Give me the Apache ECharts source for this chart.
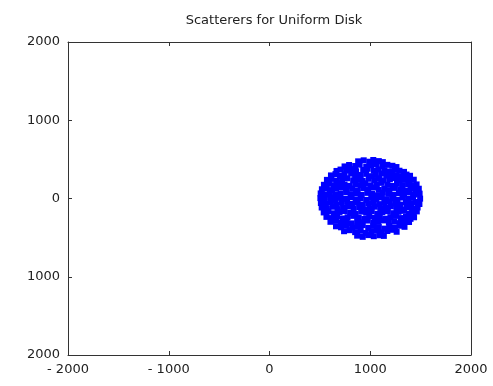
<!DOCTYPE html>
<html>
<head>
<meta charset="utf-8">
<script src="https://cdn.jsdelivr.net/npm/echarts@6/dist/echarts.min.js"></script>
<style>
  html, body { margin: 0; padding: 0; background: #fff; }
  #chart { width: 493px; height: 386px; }
</style>
</head>
<body>
<div id="chart"></div>
<script>
// 图表标题和坐标轴范围
const chartTitle = 'Scatterers for Uniform Disk'
const xTicks = [-2000, -1000, 0, 1000, 2000]
const yTicks = [-2000, -1000, 0, 1000, 2000]

// 散射点 [x, y]，从图上逐行估读
const scatterPoints = [
	[880, 475], [935, 488], [990, 470], [1030, 492], [1085, 478], [1125, 465],
	[745, 410], [790, 428], [850, 415], [895, 432], [960, 405], [1010, 425], [1060, 440], [1120, 412], [1170, 430], [1220, 418], [1260, 402],
	[665, 352], [705, 370], [760, 358], [815, 375], [860, 348], [930, 365], [975, 380], [1035, 355], [1080, 372], [1140, 360], [1190, 345], [1245, 368], [1290, 355], [1335, 340],
	[610, 295], [655, 312], [700, 288], [745, 305], [810, 318], [850, 292], [905, 300], [960, 315], [1010, 285], [1055, 305], [1110, 320], [1160, 292], [1215, 310], [1260, 298], [1315, 285], [1360, 306], [1395, 290],
	[570, 238], [615, 250], [665, 228], [720, 245], [770, 258], [830, 232], [880, 248], [925, 225], [985, 252], [1040, 236], [1090, 258], [1135, 230], [1195, 245], [1240, 262], [1290, 235], [1345, 248], [1390, 228], [1432, 240],
	[540, 175], [590, 188], [640, 170], [690, 195], [745, 178], [790, 162], [850, 185], [905, 172], [950, 195], [1005, 168], [1065, 182], [1110, 200], [1170, 175], [1225, 160], [1265, 190], [1320, 172], [1375, 185], [1420, 168], [1460, 180],
	[520, 118], [565, 130], [620, 108], [660, 125], [715, 140], [765, 112], [820, 128], [875, 105], [930, 132], [980, 118], [1030, 140], [1085, 110], [1140, 125], [1190, 105], [1245, 135], [1300, 118], [1345, 102], [1400, 130], [1450, 115], [1482, 125],
	[508, 65], [555, 52], [600, 72], [655, 48], [705, 62], [760, 80], [815, 55], [860, 68], [915, 45], [970, 72], [1020, 58], [1075, 40], [1125, 75], [1180, 60], [1230, 48], [1285, 70], [1335, 55], [1390, 78], [1440, 50], [1490, 62],
	[505, 5], [550, -8], [605, 12], [650, -15], [700, 8], [750, -5], [805, 18], [855, -12], [905, 2], [960, -18], [1010, 10], [1060, -6], [1115, 15], [1165, -10], [1220, 4], [1270, -16], [1320, 12], [1375, -4], [1425, 8], [1495, -2],
	[510, -58], [560, -70], [610, -48], [665, -75], [715, -55], [770, -42], [820, -68], [875, -52], [925, -80], [980, -60], [1035, -45], [1090, -72], [1140, -56], [1195, -40], [1250, -65], [1300, -78], [1355, -50], [1405, -62], [1455, -45], [1488, -70],
	[518, -115], [570, -128], [625, -105], [675, -135], [730, -118], [780, -102], [835, -130], [890, -112], [940, -140], [995, -122], [1045, -105], [1100, -132], [1150, -118], [1205, -100], [1260, -125], [1310, -140], [1365, -110], [1415, -128], [1470, -115],
	[538, -178], [585, -165], [640, -190], [695, -172], [745, -160], [800, -185], [855, -198], [910, -168], [960, -182], [1015, -160], [1070, -195], [1120, -175], [1175, -162], [1230, -188], [1280, -170], [1335, -158], [1385, -192], [1430, -176], [1462, -165],
	[565, -235], [620, -250], [670, -228], [725, -255], [775, -240], [830, -222], [885, -248], [940, -262], [990, -230], [1045, -245], [1095, -225], [1150, -258], [1200, -238], [1255, -222], [1305, -250], [1355, -235], [1400, -260], [1435, -240],
	[605, -298], [660, -285], [710, -310], [765, -295], [815, -318], [870, -290], [920, -305], [975, -282], [1030, -312], [1080, -295], [1135, -280], [1185, -308], [1240, -292], [1290, -315], [1340, -288], [1385, -300],
	[660, -355], [710, -368], [760, -345], [820, -372], [870, -358], [925, -340], [980, -375], [1030, -350], [1085, -365], [1140, -385], [1190, -352], [1245, -370], [1295, -348], [1340, -362],
	[740, -418], [795, -405], [850, -430], [905, -412], [955, -440], [1010, -420], [1065, -405], [1115, -432], [1170, -415], [1220, -400], [1262, -425],
	[870, -475], [925, -490], [980, -468], [1035, -482], [1090, -470], [1135, -478]
]

const labelFont = { color: '#222', fontSize: 13, fontFamily: 'DejaVu Sans' }

function xLabel(v) {
	return v < 0 ? '- ' + (-v) : String(v)
}
function yLabel(v) {
	return String(Math.abs(v)) // 原图纵轴没有负号
}

const dom = document.getElementById('chart')
const myChart = echarts.init(dom)

// 四边都要向内的刻度
function makeAxis(pos, isX, showLabel) {
	const ticks = isX ? xTicks : yTicks
	return {
		type: 'value',
		position: pos,
		min: ticks[0],
		max: ticks[ticks.length - 1],
		interval: 1000,
		axisLine: { show: true, onZero: false, lineStyle: { color: '#333', width: 1 } },
		axisTick: { show: true, inside: true, length: 4, lineStyle: { color: '#333' } },
		axisLabel: {
			show: showLabel,
			margin: 8,
			formatter: isX ? xLabel : yLabel,
			...labelFont
		},
		splitLine: { show: false }
	}
}

const opt = {
	animation: false,
	backgroundColor: '#fff',
	title: {
		text: chartTitle,
		left: 269,
		textAlign: 'center',
		top: 9,
		textStyle: { color: '#222', fontSize: 13, fontWeight: 'normal', fontFamily: 'DejaVu Sans' }
	},
	grid: { left: 68, right: 22, top: 42, bottom: 31, containLabel: false },
	xAxis: [makeAxis('bottom', true, true), makeAxis('top', true, false)],
	yAxis: [makeAxis('left', false, true), makeAxis('right', false, false)],
	series: [
		{
			type: 'scatter',
			data: scatterPoints,
			symbol: 'rect',
			symbolSize: 6,
			itemStyle: { color: '#0000ff', opacity: 1 }
		}
	]
}

myChart.setOption(opt)
</script>
</body>
</html>
